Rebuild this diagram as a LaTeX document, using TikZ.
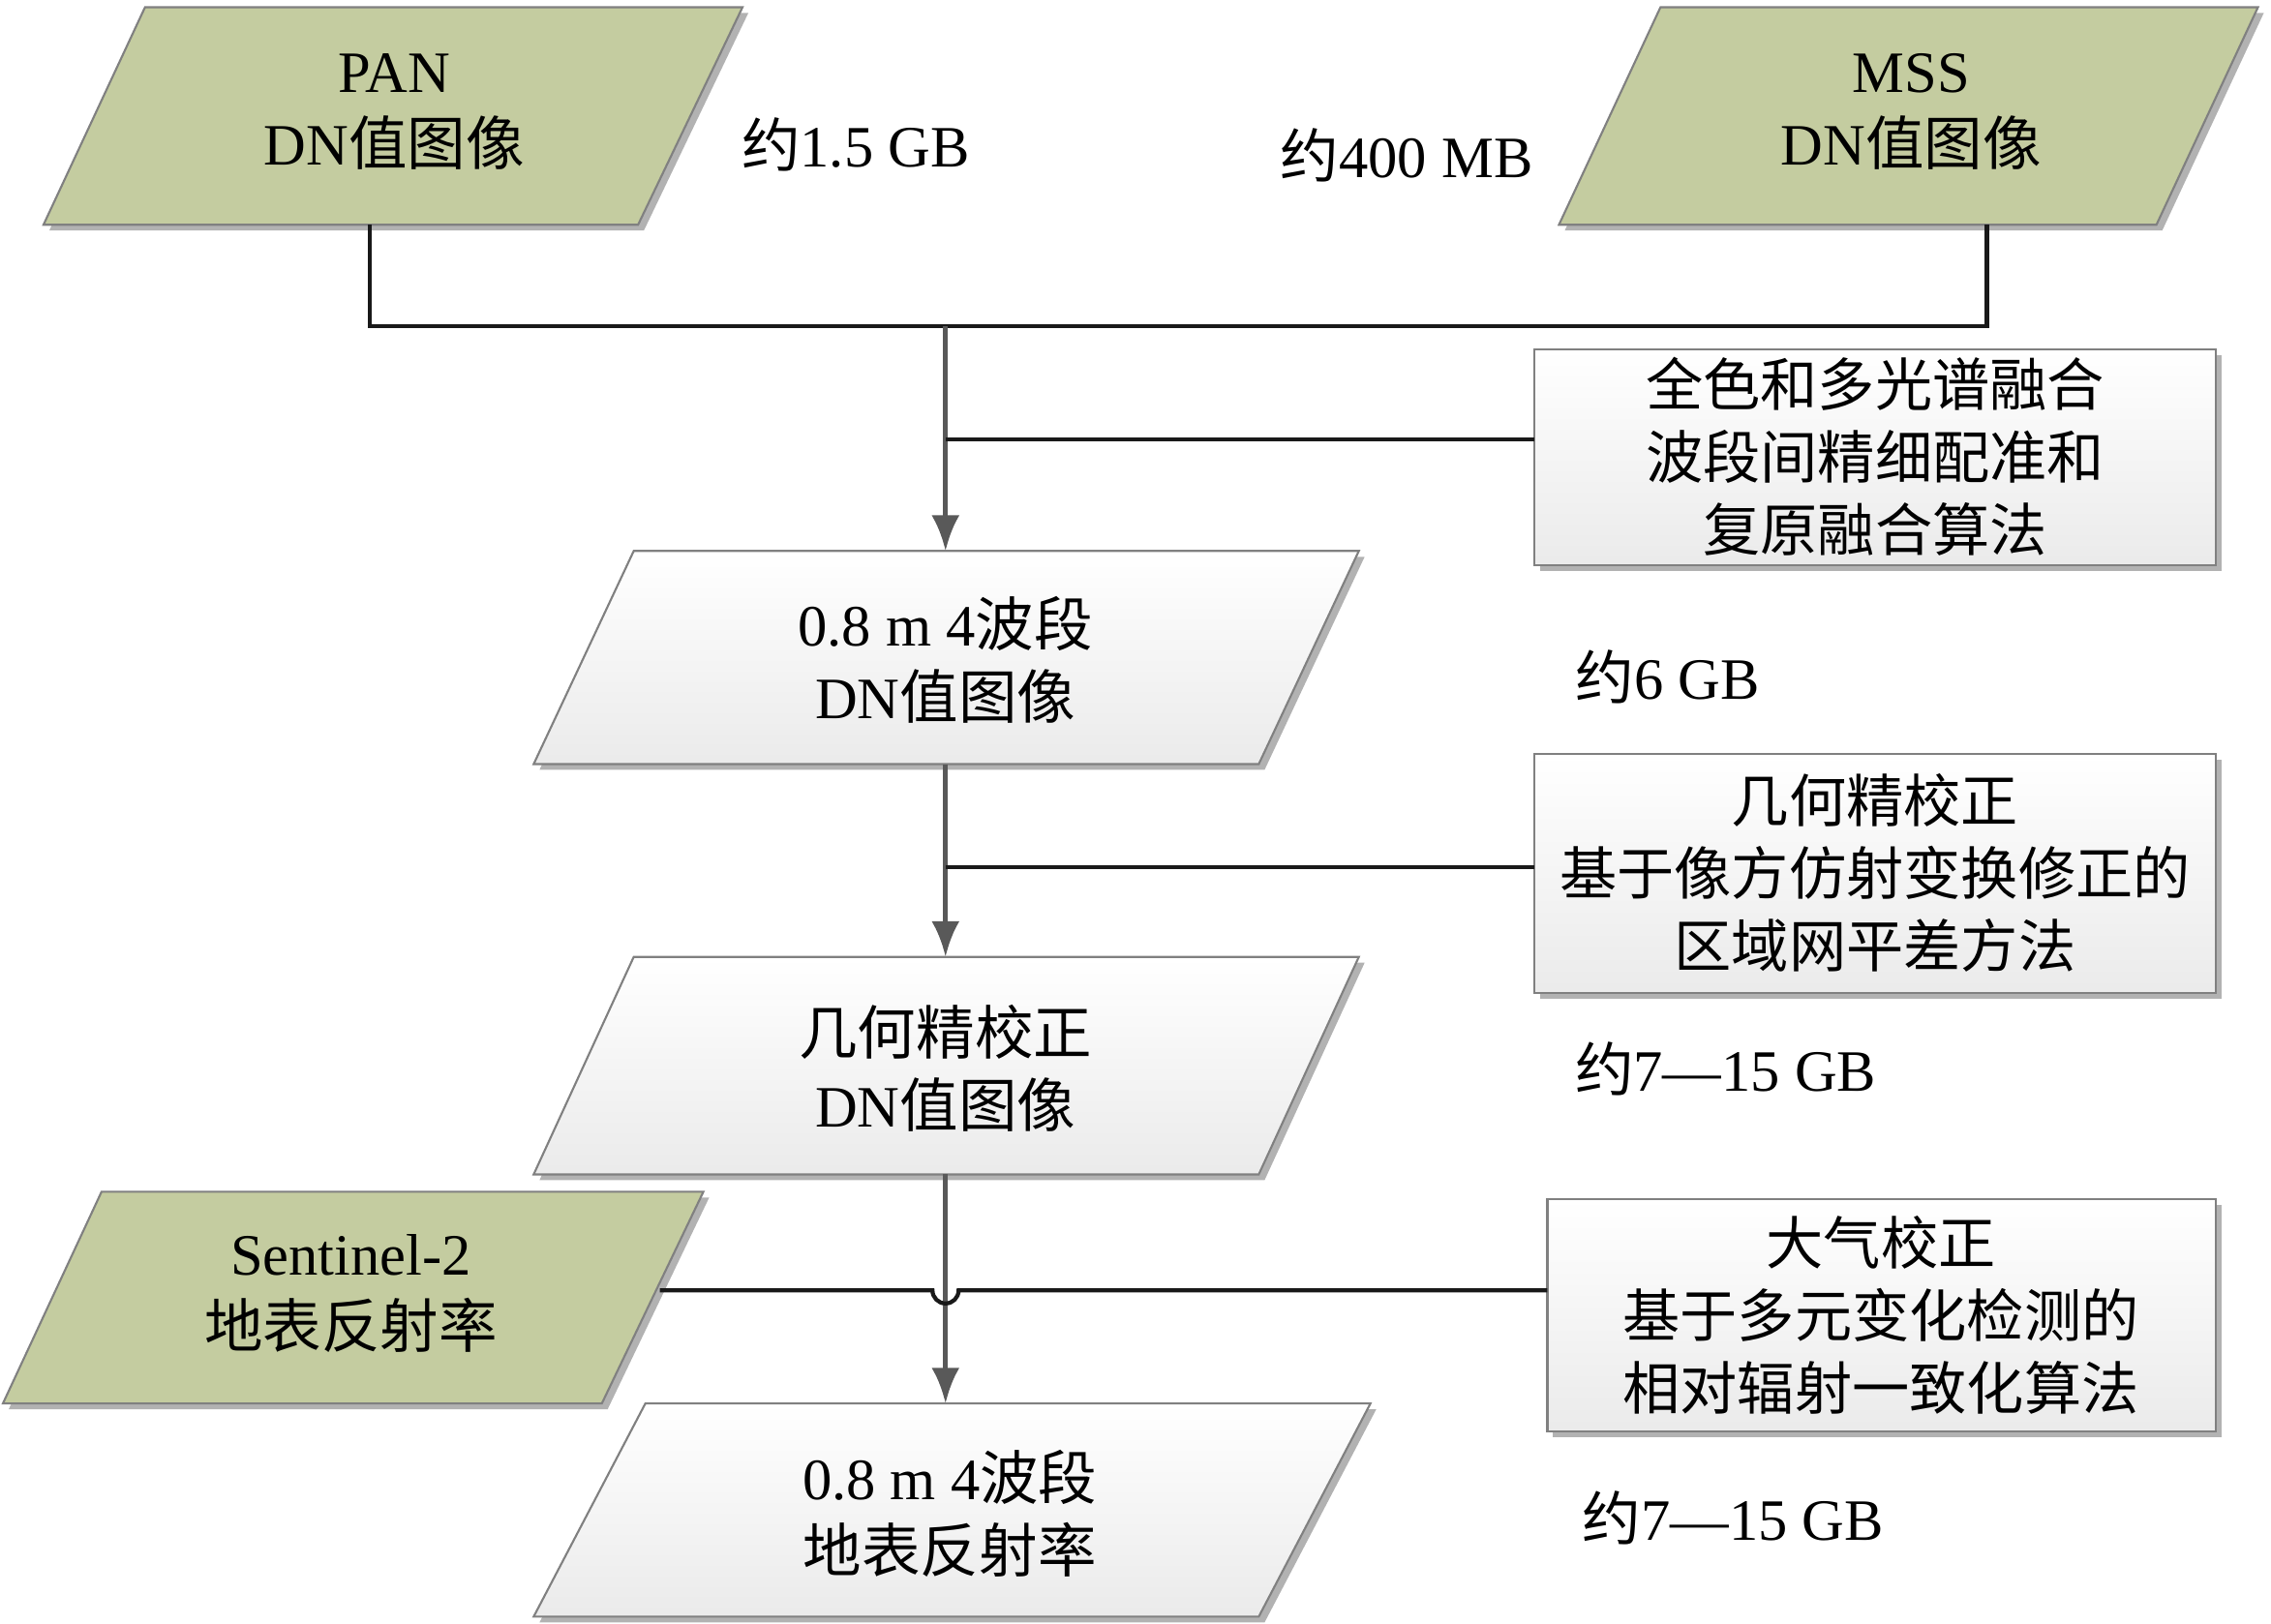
\documentclass[tikz,border=0pt]{standalone}
\usepackage{fontspec}
\setmainfont{Liberation Serif}
\newfontfamily\cjk{Noto Sans CJK SC}
\usetikzlibrary{arrows.meta}
\begin{document}
\begin{tikzpicture}[x=0.02cm,y=-0.02cm,
  txt/.style={font=\fontsize{23}{28.5}\selectfont,align=center,inner sep=0pt},
  btxt/.style={font=\cjk\fontsize{22.5}{28.5}\selectfont,align=center,inner sep=0pt},
  shd/.style={fill=black!30,draw=none},
  green/.style={fill=olivegreen,draw=black!50,line width=0.8pt},
  light/.style={top color=white,bottom color=black!8,draw=black!50,line width=0.8pt},
  conn/.style={line width=1.6pt,black!90},
  arr/.style={line width=2pt,black!65,-{Latex[length=14pt,width=11pt]}}]
\definecolor{olivegreen}{RGB}{196,204,160}
\useasboundingbox (0,0) rectangle (1566,1120);
% PAN
\fill[shd] (104,9)--(516,9)--(444,159)--(34,159)--cycle;
\draw[green] (100,5)--(512,5)--(440,155)--(30,155)--cycle;
\node[txt] (pan) at (272,77) {PAN\\DN{\cjk 值图像}};
% MSS
\fill[shd] (1149,9)--(1561,9)--(1491,159)--(1079,159)--cycle;
\draw[green] (1145,5)--(1557,5)--(1487,155)--(1075,155)--cycle;
\node[txt] (mss) at (1318,77) {MSS\\DN{\cjk 值图像}};
\node[txt] (s1) at (590,100) {{\cjk 约}1.5 GB};
\node[txt] (s2) at (970,107) {{\cjk 约}400 MB};
% box1
\fill[shd] (1062,245) rectangle (1532,394);
\draw[light] (1058,241) rectangle (1528,390);
\node[btxt] (b1) at (1293,315) {全色和多光谱融合\\波段间精细配准和\\复原融合算法};
% para2
\fill[shd] (441,384)--(941,384)--(872,531)--(372,531)--cycle;
\draw[light] (437,380)--(937,380)--(868,527)--(368,527)--cycle;
\node[txt] (p2) at (652,455) {0.8 m 4{\cjk 波段}\\DN{\cjk 值图像}};
\node[txt] (s3) at (1150,467) {{\cjk 约}6 GB};
% box2
\fill[shd] (1062,524) rectangle (1532,689);
\draw[light] (1058,520) rectangle (1528,685);
\node[btxt] (b2) at (1293,602) {几何精校正\\基于像方仿射变换修正的\\区域网平差方法};
% para3
\fill[shd] (441,664)--(941,664)--(872,814)--(372,814)--cycle;
\draw[light] (437,660)--(937,660)--(868,810)--(368,810)--cycle;
\node[txt] (p3) at (652,737) {{\cjk 几何精校正}\\DN{\cjk 值图像}};
\node[txt] (s4) at (1190,737) {{\cjk 约}7—15 GB};
% sentinel
\fill[shd] (74,826)--(489,826)--(419,972)--(6,972)--cycle;
\draw[green] (70,822)--(485,822)--(415,968)--(2,968)--cycle;
\node[txt] (sen) at (242,892) {Sentinel-2\\{\cjk 地表反射率}};
% box3
\fill[shd] (1071,831) rectangle (1532,991);
\draw[light] (1067,827) rectangle (1528,987);
\node[btxt] (b3) at (1297,907) {大气校正\\基于多元变化检测的\\相对辐射一致化算法};
% para4
\fill[shd] (449,972)--(949,972)--(872,1119)--(372,1119)--cycle;
\draw[light] (445,968)--(945,968)--(868,1115)--(368,1115)--cycle;
\node[txt] (p4) at (655,1044) {0.8 m 4{\cjk 波段}\\{\cjk 地表反射率}};
\node[txt] (s5) at (1195,1047) {{\cjk 约}7—15 GB};
% connectors
\coordinate (j) at (652,225);
\draw[conn] (255,155) |- (j) -| (1370,155);
\draw[arr] (j) -- (652,380);
\draw[conn] (1058,303) -- (652,303);
\draw[arr] (652,527) -- (652,660);
\draw[conn] (1058,598) -- (652,598);
\draw[arr] (652,810) -- (652,968);
\draw[conn] (455,890) -- (643,890) arc[start angle=180,end angle=0,radius=9] -- (1067,890);
\end{tikzpicture}
\end{document}
